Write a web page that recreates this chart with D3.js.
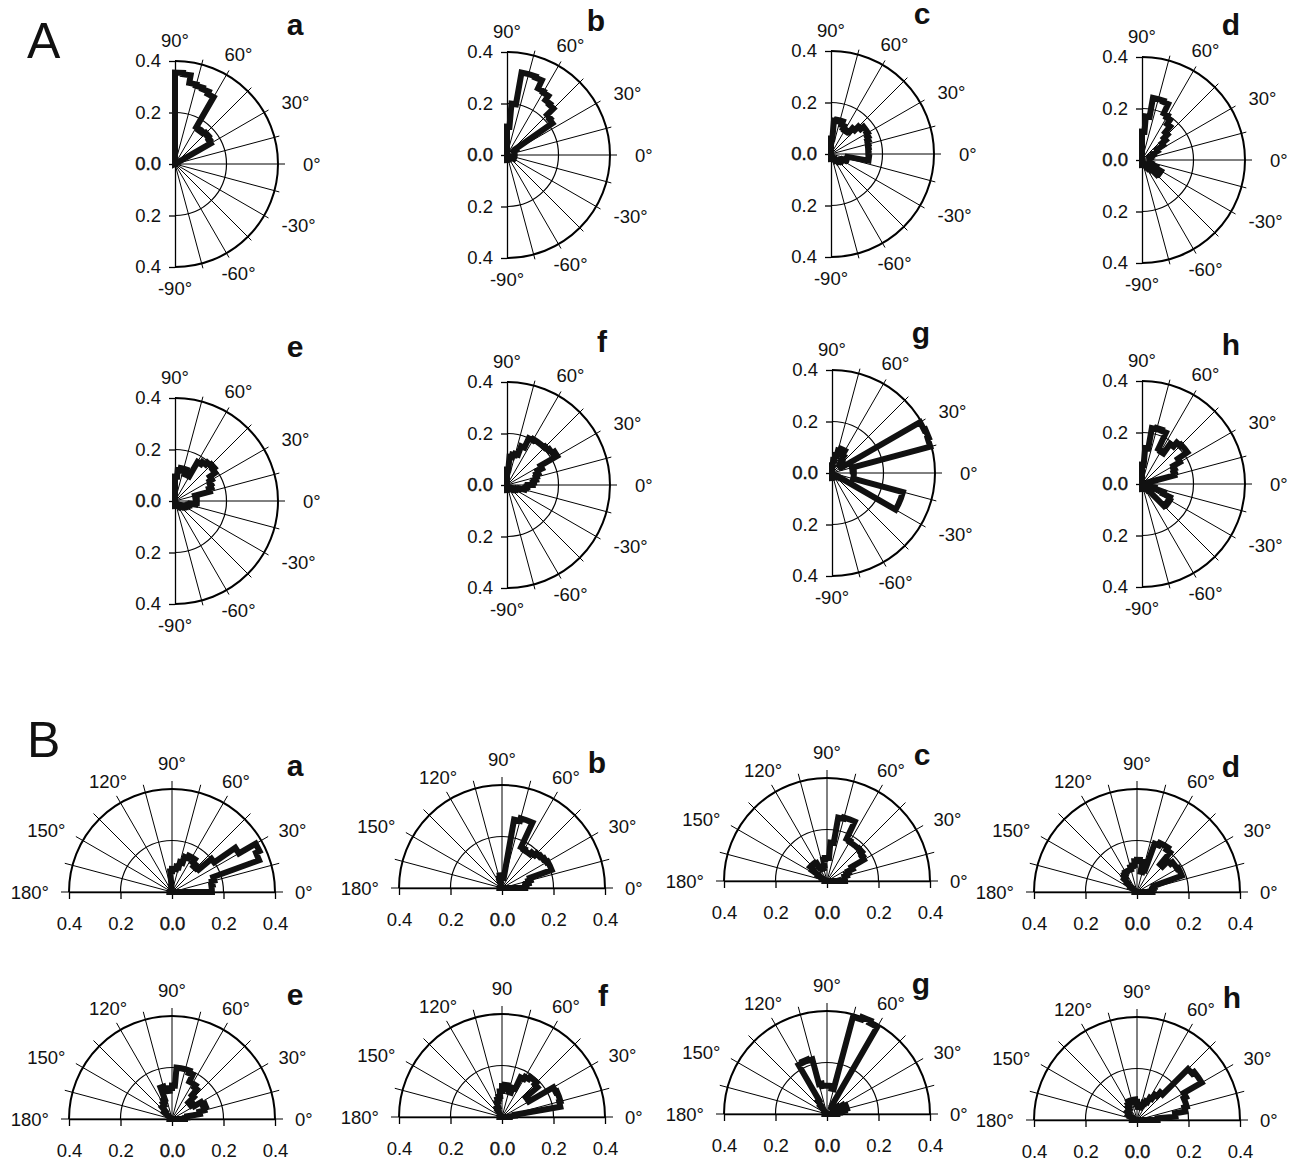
<!DOCTYPE html>
<html>
<head>
<meta charset="utf-8">
<script src="https://cdn.jsdelivr.net/npm/d3@7/dist/d3.min.js"></script>
<style>
body { margin: 0; background: #fff; }
</style>
</head>
<body>
<div id="chart"></div>
<script>
// 5 degree bins, A: from -90 to 90, B: from 0 to 180
var letters = ["a", "b", "c", "d", "e", "f", "g", "h"];
var anglesA = [90, 60, 30, 0, -30, -60, -90];
var anglesB = [180, 150, 120, 90, 60, 30, 0];
var radTicks = [-0.4, -0.2, 0, 0.2, 0.4];

var roseAa = [0,0,0,0,0,0,0,0,0,0,0,0, 0,0,0,0,0,0, 0,0,0,0,0,0.01,
  0.16,0.165,0.17,0.165,0.16,0.165, 0.30,0.31,0.315,0.32,0.35,0.355];
var roseAb = [0.02,0.02,0.02,0.02,0.02,0.02,0.02,0.02,0.02,0.02,0.02,0.02,
  0.03,0.03,0.03,0.03,0.03,0.03, 0.03,0.03,0.03,0.03,0.03,0.03,
  0.04,0.215,0.22,0.255,0.26,0.28, 0.285,0.32,0.325,0.325,0.20,0.11];
var roseAc = [0.02,0.02,0.02,0.02,0.02,0.02,0.03,0.03,0.04,0.04,0.045,0.05,
  0.05,0.06,0.065,0.065,0.148,0.146, 0.145,0.146,0.148,0.15,0.155,0.16,
  0.165,0.165,0.15,0.13,0.11,0.105, 0.11,0.12,0.135,0.135,0.13,0.06];
var roseAd = [0.02,0.02,0.02,0.02,0.02,0.02,0.03,0.04,0.05,0.08,0.085,0.085,
  0.06,0.04,0.03,0.03,0.03,0.03, 0.03,0.03,0.03,0.035,0.04,0.05,
  0.07,0.10,0.12,0.14,0.17,0.19, 0.20,0.24,0.245,0.245,0.17,0.11];
var roseAe = [0.02,0.02,0.02,0.02,0.02,0.02,0.02,0.025,0.03,0.03,0.035,0.04,
  0.045,0.05,0.055,0.06,0.08,0.085, 0.085,0.08,0.08,0.14,0.15,0.155,
  0.165,0.19,0.20,0.195,0.185,0.175, 0.11,0.11,0.13,0.13,0.12,0.095];
var roseAf = [0.02,0.02,0.02,0.02,0.02,0.02,0.02,0.02,0.02,0.02,0.025,0.03,
  0.035,0.04,0.05,0.07,0.075,0.08, 0.10,0.105,0.115,0.12,0.13,0.15,
  0.225,0.215,0.21,0.205,0.205,0.205, 0.20,0.16,0.125,0.12,0.11,0.06];
var roseAg = [0.02,0.02,0.02,0.02,0.02,0.02,0.02,0.02,0.02,0.02,0.02,0.03,
  0.285,0.285,0.285,0.085,0.085,0.085, 0.085,0.08,0.08,0.395,0.40,0.395,
  0.05,0.04,0.04,0.05,0.06,0.08, 0.10,0.10,0.09,0.07,0.05,0.03];
var roseAh = [0.02,0.02,0.02,0.02,0.02,0.02,0.02,0.02,0.03,0.12,0.125,0.125,
  0.12,0.09,0.05,0.03,0.02,0.02, 0.02,0.02,0.03,0.13,0.135,0.14,
  0.17,0.215,0.215,0.21,0.19,0.145, 0.15,0.22,0.225,0.22,0.14,0.075];

var roseBa = [0.155,0.155,0.16,0.17,0.36,0.375, 0.30,0.20,0.135,0.13,0.14,0.155,
  0.155,0.145,0.12,0.10,0.09,0.09, 0.08,0.02,0.01,0.01,0.01,0.01,
  0.01,0.01,0.01,0.01,0.01,0.01, 0.01,0.01,0.01,0.01,0.01,0.01];
var roseBb = [0.09,0.095,0.105,0.115,0.205,0.205, 0.20,0.195,0.19,0.18,0.17,0.17,
  0.175,0.28,0.28,0.27,0.04,0.04, 0.05,0.05,0.04,0.03,0.01,0.01,
  0.01,0.01,0.01,0.01,0.01,0.01, 0.01,0.01,0.01,0.01,0.01,0.01];
var roseBc = [0.07,0.07,0.07,0.08,0.09,0.11, 0.165,0.17,0.177,0.175,0.175,0.175,
  0.18,0.255,0.255,0.25,0.15,0.09, 0.09,0.085,0.06,0.05,0.05,0.06,
  0.08,0.085,0.085,0.085,0.07,0.04, 0.02,0.01,0.01,0.01,0.01,0.01];
var roseBd = [0.06,0.06,0.065,0.07,0.185,0.185, 0.18,0.18,0.17,0.14,0.20,0.21,
  0.21,0.20,0.09,0.08,0.12,0.125, 0.12,0.105,0.10,0.09,0.09,0.09,
  0.085,0.08,0.07,0.05,0.03,0.01, 0.01,0.01,0.01,0.01,0.01,0.01];
var roseBe = [0.05,0.06,0.11,0.13,0.14,0.13, 0.10,0.09,0.09,0.12,0.15,0.16,
  0.16,0.19,0.20,0.20,0.20,0.13, 0.12,0.11,0.12,0.13,0.08,0.07,
  0.06,0.06,0.04,0.04,0.01,0.01, 0.01,0.01,0.01,0.01,0.01,0.01];
var roseBf = [0.03,0.05,0.23,0.235,0.235,0.23, 0.12,0.12,0.18,0.19,0.19,0.18,
  0.17,0.12,0.10,0.11,0.125,0.12, 0.10,0.08,0.07,0.06,0.04,0.04,
  0.03,0.01,0.01,0.01,0.01,0.01, 0.01,0.01,0.01,0.01,0.01,0.01];
var roseBg = [0.04,0.05,0.07,0.08,0.08,0.07, 0.05,0.04,0.03,0.03,0.03,0.04,
  0.39,0.40,0.39,0.10,0.11,0.11, 0.11,0.11,0.12,0.22,0.225,0.22,
  0.06,0.04,0.01,0.01,0.01,0.01, 0.01,0.01,0.01,0.01,0.01,0.01];
var roseBh = [0.08,0.15,0.19,0.20,0.20,0.21, 0.29,0.29,0.28,0.14,0.12,0.10,
  0.08,0.07,0.06,0.05,0.05,0.06, 0.07,0.08,0.08,0.08,0.08,0.07,
  0.06,0.05,0.05,0.05,0.04,0.04, 0.03,0.02,0.02,0.02,0.02,0.02];

var roseA = [roseAa, roseAb, roseAc, roseAd, roseAe, roseAf, roseAg, roseAh];
var roseB = [roseBa, roseBb, roseBc, roseBd, roseBe, roseBf, roseBg, roseBh];

// layout
var W = 1291, H = 1162, R = 103, binWidth = 5, fs = 18.5;
var centersA = [[175,164],[507,155],[831,154],[1142,160],[175,501],[507,485],[832,473],[1142,484]];
var letterPosA = [[295,35],[596,31],[922,24],[1231,35],[295,357],[602,352],[921,343],[1231,355]];
var centersB = [[172,892],[502,888],[827,881],[1137,892],[172,1119],[502,1117],[827,1114],[1137,1120]];
var letterPosB = [[295,776],[597,773],[922,765],[1231,777],[295,1005],[603,1006],[921,994],[1232,1008]];
var font = "'Liberation Sans', Arial, Helvetica, sans-serif";

var svg = d3.select("#chart").append("svg")
	.attr("width", W)
	.attr("height", H)
	.style("font-family", font);

var r = d3.scaleLinear().domain([0, 0.4]).range([0, R]);
var toRad = Math.PI / 180;

var rose = d3.lineRadial()
	.angle(function(d) { return (90 - d[0]) * toRad; })
	.radius(function(d) { return r(d[1]); });

function rosePoints(vals, start) {
	var pts = [[start, 0]];
	vals.forEach(function(v, i) {
		var a0 = start + i * binWidth;
		pts.push([a0, v], [a0 + binWidth, v]);
	});
	pts.push([start + vals.length * binWidth, 0]);
	return pts;
}

function arcPath(rad, a0, a1) {
	var p = d3.path();
	p.arc(0, 0, rad, a0, a1, false);
	return p.toString();
}

function polar(a, rad) {
	return [rad * Math.cos(a * toRad), -rad * Math.sin(a * toRad)];
}

function drawPanel(type, i) {
	var c = type == "A" ? centersA[i] : centersB[i];
	var g = svg.append("g").attr("transform", "translate(" + c[0] + "," + c[1] + ")");

	// spokes
	var spokes = type == "A" ? d3.range(-75, 76, 15) : d3.range(0, 181, 15);
	var ext = function(a) { return R + (type == "B" ? 8 : (a == 0 ? 7 : 5)); };
	g.selectAll(".spoke").data(spokes).enter().append("line")
		.attr("x1", 0).attr("y1", 0)
		.attr("x2", function(a) { return polar(a, ext(a))[0]; })
		.attr("y2", function(a) { return polar(a, ext(a))[1]; })
		.attr("stroke", "#000").attr("stroke-width", 1);

	// circles
	var a0 = type == "A" ? -Math.PI / 2 : -Math.PI;
	var a1 = type == "A" ? Math.PI / 2 : 0;
	g.append("path").attr("d", arcPath(r(0.2), a0, a1))
		.attr("fill", "none").attr("stroke", "#000").attr("stroke-width", 1.2);
	g.append("path").attr("d", arcPath(r(0.4), a0, a1))
		.attr("fill", "none").attr("stroke", "#000").attr("stroke-width", 2);

	// axis
	var ax;
	if (type == "A") {
		var y = d3.scaleLinear().domain([-0.4, 0.4]).range([R, -R]);
		ax = g.append("g").call(d3.axisLeft(y).tickValues(radTicks).tickSize(6)
			.tickSizeOuter(0).tickPadding(8)
			.tickFormat(function(d) { return Math.abs(d).toFixed(1); }));
	} else {
		var x = d3.scaleLinear().domain([-0.4, 0.4]).range([-R, R]);
		ax = g.append("g").call(d3.axisBottom(x).tickValues(radTicks).tickSize(7)
			.tickSizeOuter(0).tickPadding(18)
			.tickFormat(function(d) { return Math.abs(d).toFixed(1); }));
	}
	ax.attr("font-size", fs).attr("font-family", font);
	ax.selectAll("path, line").attr("stroke", "#000").attr("stroke-width", 1.3);
	ax.selectAll(".tick text").attr("fill", "#111")
		.filter(function(d) { return d === 0; })
		.attr("stroke", "#111").attr("stroke-width", 0.4);

	// angle labels
	var angs = type == "A" ? anglesA : anglesB;
	var gapA = {0: 25, 30: 20, 60: 24, 90: 21};
	var gapB = {0: 20, 30: 20, 60: 25, 90: 26};
	g.selectAll(".ang").data(angs).enter().append("text")
		.each(function(a) {
			var ref = Math.abs(a) > 90 ? 180 - Math.abs(a) : Math.abs(a);
			var gap = type == "A" ? gapA[ref] : gapB[ref];
			var p = polar(a, R + gap);
			var cs = Math.cos(a * toRad);
			var anchor = cs > 0.7 ? "start" : (cs < -0.7 ? "end" : "middle");
			d3.select(this).attr("x", p[0]).attr("y", p[1]).attr("text-anchor", anchor);
		})
		.attr("dominant-baseline", "central")
		.attr("font-size", fs)
		.attr("fill", "#111")
		.text(function(a) { return (type == "B" && i == 5 && a == 90) ? "90" : a + "\u00b0"; });

	// rose
	var vals = type == "A" ? roseA[i] : roseB[i];
	g.append("path")
		.attr("d", rose(rosePoints(vals, type == "A" ? -90 : 0)) + "Z")
		.attr("fill", "none")
		.attr("stroke", "#111")
		.attr("stroke-width", 6)
		.attr("stroke-linejoin", "miter");

	// letter
	var lp = type == "A" ? letterPosA[i] : letterPosB[i];
	svg.append("text").attr("x", lp[0]).attr("y", lp[1])
		.attr("text-anchor", "middle")
		.attr("font-size", 30).attr("font-weight", "bold")
		.attr("fill", "#111")
		.text(letters[i]);
}

for (var i = 0; i < 8; i++) {
	drawPanel("A", i);
	drawPanel("B", i);
}

svg.append("text").attr("x", 27).attr("y", 58).attr("font-size", 50).attr("fill", "#111").text("A");
svg.append("text").attr("x", 27).attr("y", 757).attr("font-size", 50).attr("fill", "#111").text("B");
</script>
</body>
</html>
